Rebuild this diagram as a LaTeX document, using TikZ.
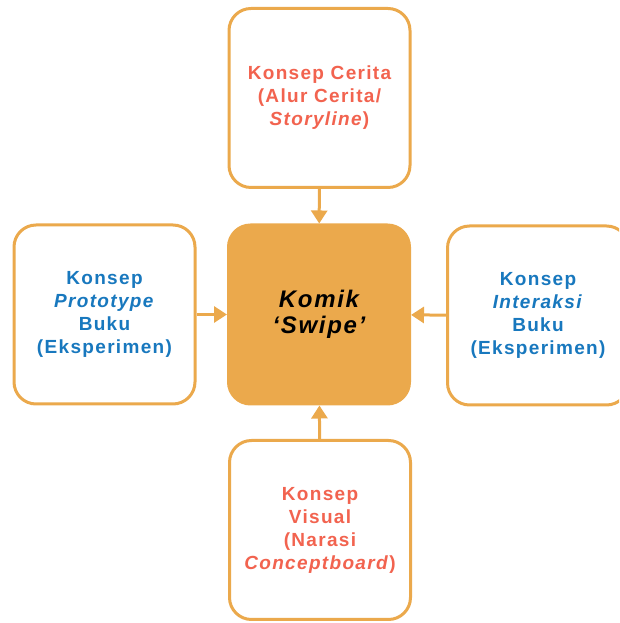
\documentclass[tikz,border=0pt]{standalone}
\usepackage{fontspec}
\setmainfont{Liberation Sans}[LetterSpace=7]
\usepackage{xcolor}
\usetikzlibrary{arrows.meta}
\definecolor{jingga}{HTML}{EBA94C}
\definecolor{merah}{HTML}{F2634F}
\definecolor{biru}{HTML}{1878BE}

\begin{document}
\begin{tikzpicture}[x=1pt,y=1pt,
  kotak/.style={draw=jingga,line width=3pt,rounded corners=22pt,fill=white,
    minimum width=181pt,minimum height=179pt,align=center,
    font=\fontsize{19}{23}\selectfont\bfseries},
  panah/.style={draw=jingga,line width=3pt,-{Triangle[width=16pt,length=13pt]}}]
  \useasboundingbox (0,0) rectangle (619,623);
  \clip (0,0) rectangle (619,623);
  \node[kotak,fill=jingga,font=\fontsize{24}{26}\selectfont\bfseries\itshape] (komik) at (319,308.5) {Komik\\‘Swipe’};
  \node[kotak,text=merah] (cerita) at (319.5,525) {Konsep Cerita\\(Alur Cerita/\\\textit{Storyline})};
  \node[kotak,text=biru] (prototype) at (104.5,308.5) {Konsep\\\textit{Prototype}\\Buku\\(Eksperimen)};
  \node[kotak,text=biru] (interaksi) at (538,307.5) {Konsep\\\textit{Interaksi}\\Buku\\(Eksperimen)};
  \node[kotak,text=merah] (visual) at (320,93) {Konsep\\Visual\\(Narasi\\\textit{Conceptboard})};
  \draw[panah] (cerita) -- (komik);
  \draw[panah] (prototype) -- (komik);
  \draw[panah] (interaksi) -- (komik);
  \draw[panah] (visual) -- (komik);
\end{tikzpicture}
\end{document}
